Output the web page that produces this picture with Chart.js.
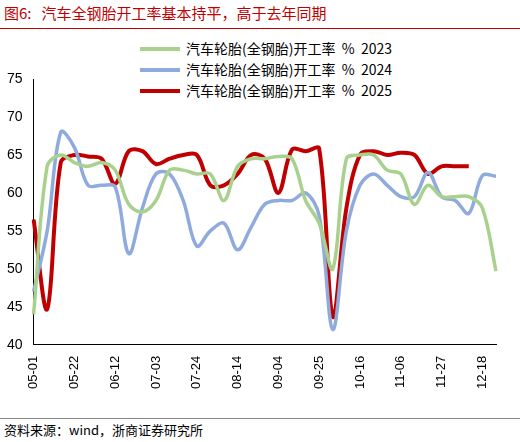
<!DOCTYPE html>
<html><head><meta charset="utf-8">
<script src="https://cdn.jsdelivr.net/npm/chart.js@4"></script>
<style>
body{margin:0;background:#fff;font-family:"Noto Sans CJK SC",sans-serif;}
#wrap{position:relative;width:520px;height:442px;}
#title{position:absolute;left:4px;top:2px;font-size:15px;color:#c00000;}
#tl{position:absolute;left:0;top:28px;width:520px;border-top:1.5px solid #c00000;}
#src{position:absolute;left:4px;top:420px;font-size:13px;color:#000;}
#sl{position:absolute;left:0;top:418px;width:520px;border-top:1px solid #888;}
#leg{position:absolute;left:140px;top:38px;font-size:14px;line-height:21px;}
#leg div{display:flex;align-items:center;}
#leg span.l{display:inline-block;width:40px;height:4px;margin-right:6px;}
#cv{position:absolute;left:0;top:30px;}
</style></head><body>
<div id="wrap">
<div id="title">图6:&nbsp;&nbsp;&nbsp;汽车全钢胎开工率基本持平，高于去年同期</div>
<div id="tl"></div>
<div id="leg"></div>
<canvas id="cv" width="520" height="362"></canvas>
<div id="sl"></div>
<div id="src">资料来源：wind，浙商证券研究所</div>
</div>
<script>
const labels=[];
const start=new Date(2025,4,1);
for(let i=0;i<35;i++){const d=new Date(start.getTime()+i*7*86400000);labels.push(String(d.getMonth()+1).padStart(2,'0')+'-'+String(d.getDate()).padStart(2,'0'));}
const seriesNames=["汽车轮胎(全钢胎)开工率 % 2023","汽车轮胎(全钢胎)开工率 % 2024","汽车轮胎(全钢胎)开工率 % 2025"];
const colors=["#a9d18e","#8faadc","#c00000"];
const s2023=[44,63.5,65,64,63.5,64,63,58.5,57.5,59,63,63,62.5,62.5,59,63.5,64.5,64.5,64.8,64.5,59,56,50,64.5,65,65,63,62.5,58.5,61,59.5,59.5,59.5,58,49.7];
const s2024=[47,55,68,66,61,61,60.8,52,58,62.5,62.5,59,53,55,56,52.5,55.5,58.5,59,59,60,57,42,55,61,62.5,61,59.5,59.5,62.7,59.5,59,57.3,62.3,62.2];
const s2025=[56.5,44.7,64,65,64.8,64.5,61.2,65.5,65.5,63.8,64.5,65,65,61,61,62.5,65,64.5,60,65.7,65.5,65.8,43.7,58,65,65.5,65,65.3,65,62.5,63.5,63.5,63.5];
const data=[s2023,s2024,s2025];
const leg=document.getElementById('leg');
seriesNames.forEach((n,i)=>{const p=n.split(' ');leg.innerHTML+=`<div><span class="l" style="background:${colors[i]}"></span>${p[0]}&nbsp;&nbsp;${p[1]}&nbsp;&nbsp;${p[2]}</div>`;});
new Chart(document.getElementById('cv'),{type:'line',
data:{labels,datasets:data.map((d,i)=>({label:seriesNames[i],data:d,borderColor:colors[i],borderWidth:i==2?4:3.5,pointRadius:0,tension:0.35,fill:false}))},
options:{responsive:false,animation:false,layout:{padding:{top:49,right:24,left:4}},
plugins:{legend:{display:false},tooltip:{enabled:false}},
scales:{y:{min:40,max:75,ticks:{stepSize:5,color:'#000',font:{size:14}},grid:{display:false},border:{color:'#000'}},
x:{ticks:{autoSkip:false,maxRotation:90,minRotation:90,color:'#000',font:{size:13},callback:(v,i)=>i%3==0?labels[i]:''},grid:{display:false,drawTicks:true},border:{color:'#000'}}}}});
</script></body></html>
